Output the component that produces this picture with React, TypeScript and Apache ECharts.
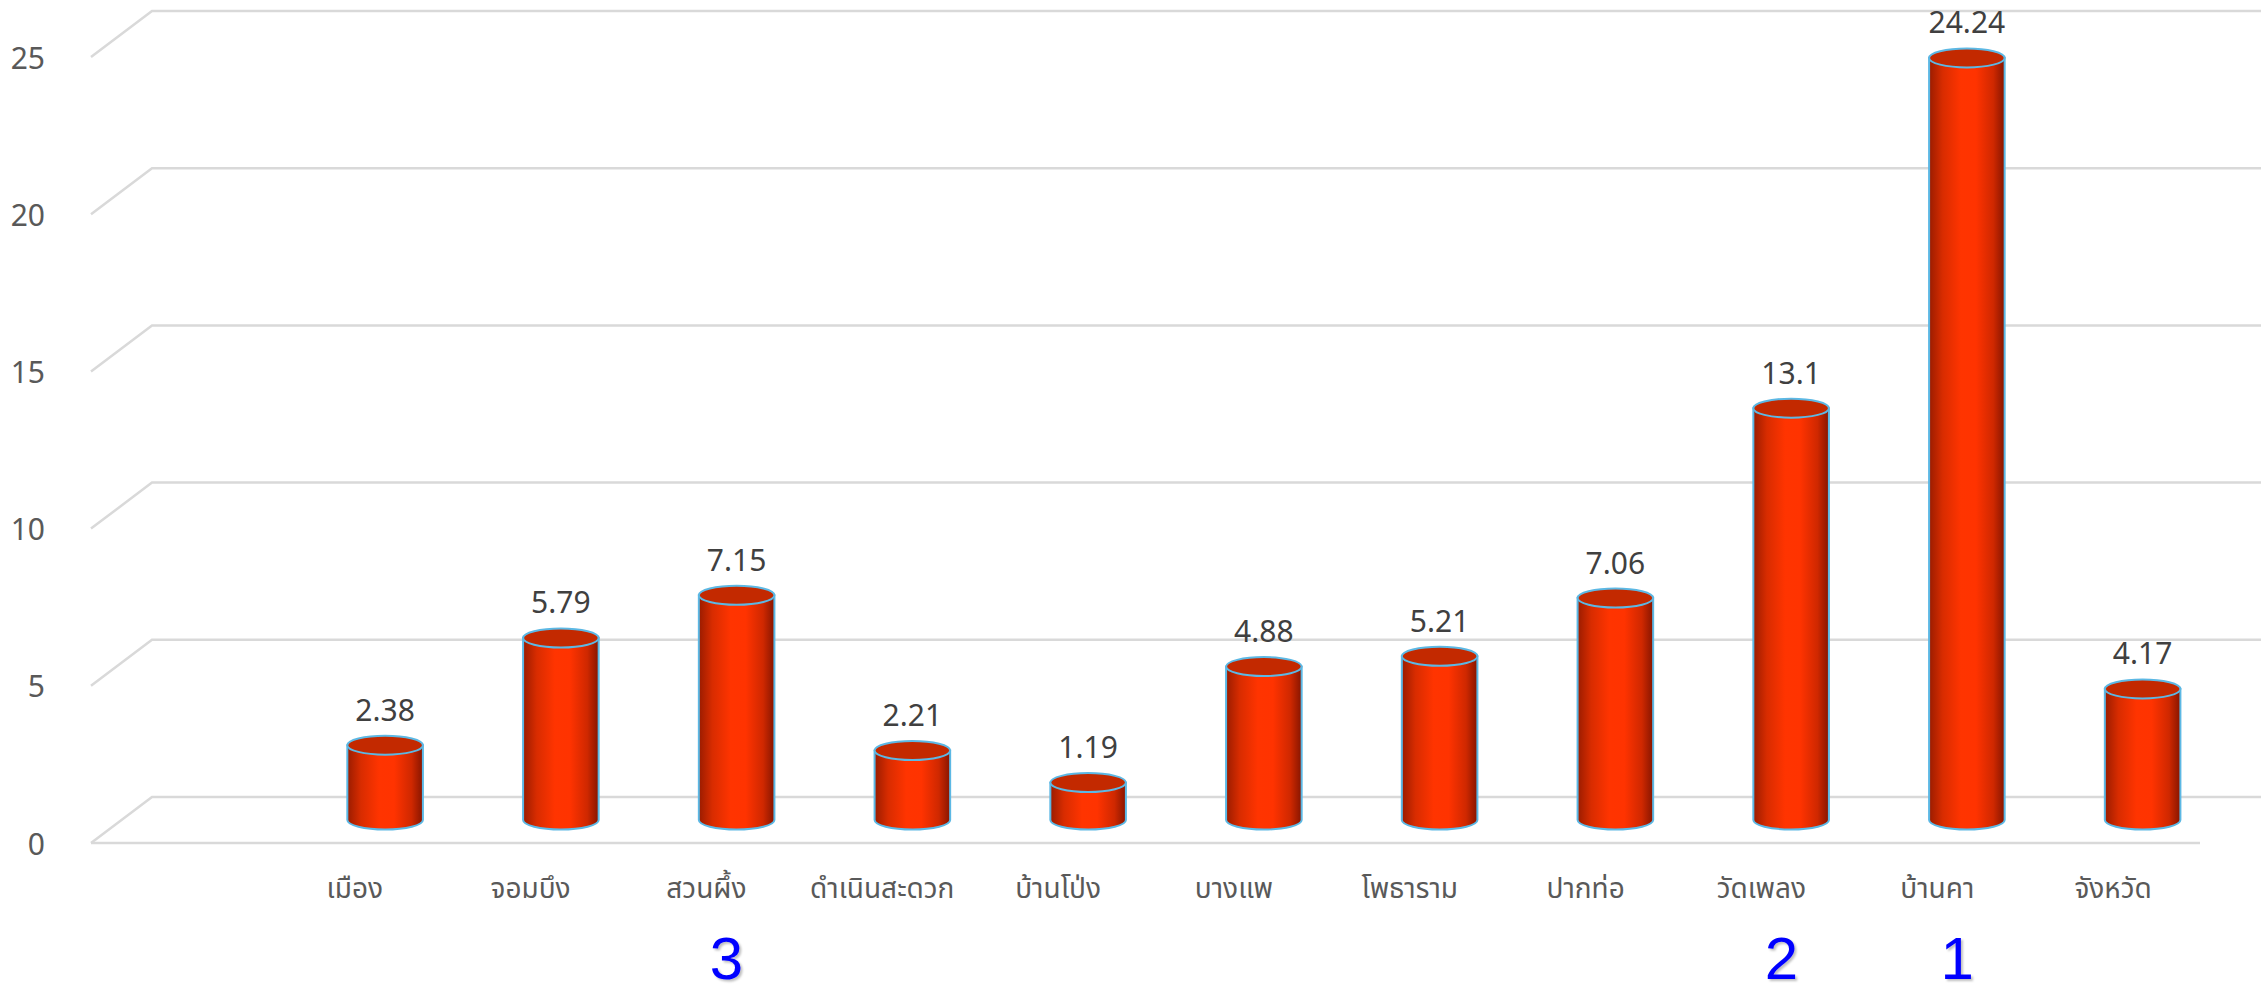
import React, { useEffect, useRef } from "react";
import * as echarts from "echarts";

const categories = ["", "เมือง", "จอมบึง", "สวนผึ้ง", "ดำเนินสะดวก", "บ้านโป่ง", "บางแพ", "โพธาราม", "ปากท่อ", "วัดเพลง", "บ้านคา", "จังหวัด"];
const values: (number | null)[] = [null, 2.38, 5.79, 7.15, 2.21, 1.19, 4.88, 5.21, 7.06, 13.1, 24.24, 4.17];
const ranks = ["", "", "", "3", "", "", "", "", "", "2", "1", ""];
const yTicks = [0, 5, 10, 15, 20, 25];

const DEPTH_X = 30.5;
const DEPTH_Y = 23;

export default function App() {
  const ref = useRef<HTMLDivElement>(null);
  useEffect(() => {
    if (!ref.current) return;
    const chart = echarts.init(ref.current, null, { renderer: "svg" });
    const bodyGrad = {
      type: "linear", x: 0, y: 0, x2: 1, y2: 0,
      colorStops: [
        { offset: 0, color: "#9a1c00" },
        { offset: 0.18, color: "#d82c00" },
        { offset: 0.42, color: "#ff3400" },
        { offset: 0.62, color: "#ff3300" },
        { offset: 0.85, color: "#cf2800" },
        { offset: 1, color: "#861500" },
      ],
    };
    const option: any = {
      animation: false,
      backgroundColor: "#ffffff",
      grid: [
        { left: 121.5, right: 36.5, top: 34, bottom: 178, outerBoundsMode: "none", containLabel: false },
        { left: 91, right: 66, top: 57, bottom: 155, outerBoundsMode: "none", containLabel: false },
      ],
      xAxis: [
        { type: "category", gridIndex: 0, data: categories, show: false },
        {
          type: "category", gridIndex: 1, data: categories, position: "bottom",
          axisLine: { show: false }, axisTick: { show: false },
          axisLabel: { interval: 0, margin: 32, fontSize: 28, color: "#595959", fontFamily: "'Noto Sans Thai', 'Noto Sans', sans-serif" },
        },
        {
          type: "category", gridIndex: 1, data: categories, position: "bottom",
          axisLine: { show: false }, axisTick: { show: false },
          axisLabel: {
            interval: 0, margin: 85, fontSize: 60, lineHeight: 60, color: "#0000ff",
            fontFamily: "'Liberation Sans Narrow', 'Liberation Sans', sans-serif",
            padding: [0, 0, 0, 40],
            textShadowColor: "rgba(0,0,0,0.25)", textShadowBlur: 2, textShadowOffsetX: 2, textShadowOffsetY: 2,
            formatter: (_v: string, i: number) => ranks[i],
          },
        },
      ],
      yAxis: [
        { type: "value", gridIndex: 0, min: 0, max: 25, interval: 5, show: false },
        {
          type: "value", gridIndex: 1, min: 0, max: 25, interval: 5,
          axisLine: { show: false }, axisTick: { show: false }, splitLine: { show: false },
          axisLabel: { margin: 46, fontSize: 30, color: "#595959", fontFamily: "'Noto Sans', sans-serif" },
        },
      ],
      series: [
        {
          type: "custom", xAxisIndex: 0, yAxisIndex: 0, z: 1, silent: true,
          data: yTicks.map((v) => [0, v]),
          renderItem: (params: any, api: any) => {
            const cs = params.coordSys;
            const y = api.coord([0, api.value(1)])[1];
            const left = cs.x;
            const right = cs.x + cs.width;
            const children: any[] = [
              {
                type: "polyline",
                shape: { points: [[left - DEPTH_X, y + DEPTH_Y], [left + DEPTH_X, y - DEPTH_Y], [right + DEPTH_X, y - DEPTH_Y]] },
                style: { stroke: "#d9d9d9", lineWidth: 2.5, fill: null },
              },
            ];
            if (api.value(1) === 0) {
              children.push({
                type: "line",
                shape: { x1: left - DEPTH_X, y1: y + DEPTH_Y, x2: right - DEPTH_X, y2: y + DEPTH_Y },
                style: { stroke: "#d9d9d9", lineWidth: 2.5 },
              });
            }
            return { type: "group", children };
          },
        },
        {
          type: "custom", xAxisIndex: 0, yAxisIndex: 0, z: 2,
          data: values.map((v, i) => [i, v]),
          renderItem: (params: any, api: any) => {
            const v = api.value(1);
            if (v == null || isNaN(v)) return null;
            const base = api.coord([api.value(0), 0]);
            const top = api.coord([api.value(0), v]);
            const bw = api.size([1, 0])[0];
            const rx = bw * 0.215;
            const ry = 9.5;
            const cx = base[0];
            const yb = base[1];
            const yt = top[1];
            return {
              type: "group",
              children: [
                {
                  type: "path",
                  shape: { pathData: `M${cx - rx} ${yt} L${cx - rx} ${yb} A${rx} ${ry} 0 0 0 ${cx + rx} ${yb} L${cx + rx} ${yt} Z` },
                  style: { fill: bodyGrad, stroke: "#5cb8e4", lineWidth: 2 },
                },
                {
                  type: "ellipse",
                  shape: { cx, cy: yt, rx, ry },
                  style: { fill: "#c32900", stroke: "#5cb8e4", lineWidth: 2 },
                },
                {
                  type: "text",
                  x: cx,
                  y: yt - 36,
                  style: {
                    text: String(values[params.dataIndex]),
                    fill: "#404040",
                    fontSize: 30,
                    fontFamily: "'Noto Sans', sans-serif",
                    align: "center",
                    verticalAlign: "middle",
                  },
                },
              ],
            };
          },
        },
      ],
    };
    chart.setOption(option);
    return () => chart.dispose();
  }, []);
  return <div ref={ref} style={{ position: "fixed", left: 0, top: 0, width: 2267, height: 998 }} />;
}
